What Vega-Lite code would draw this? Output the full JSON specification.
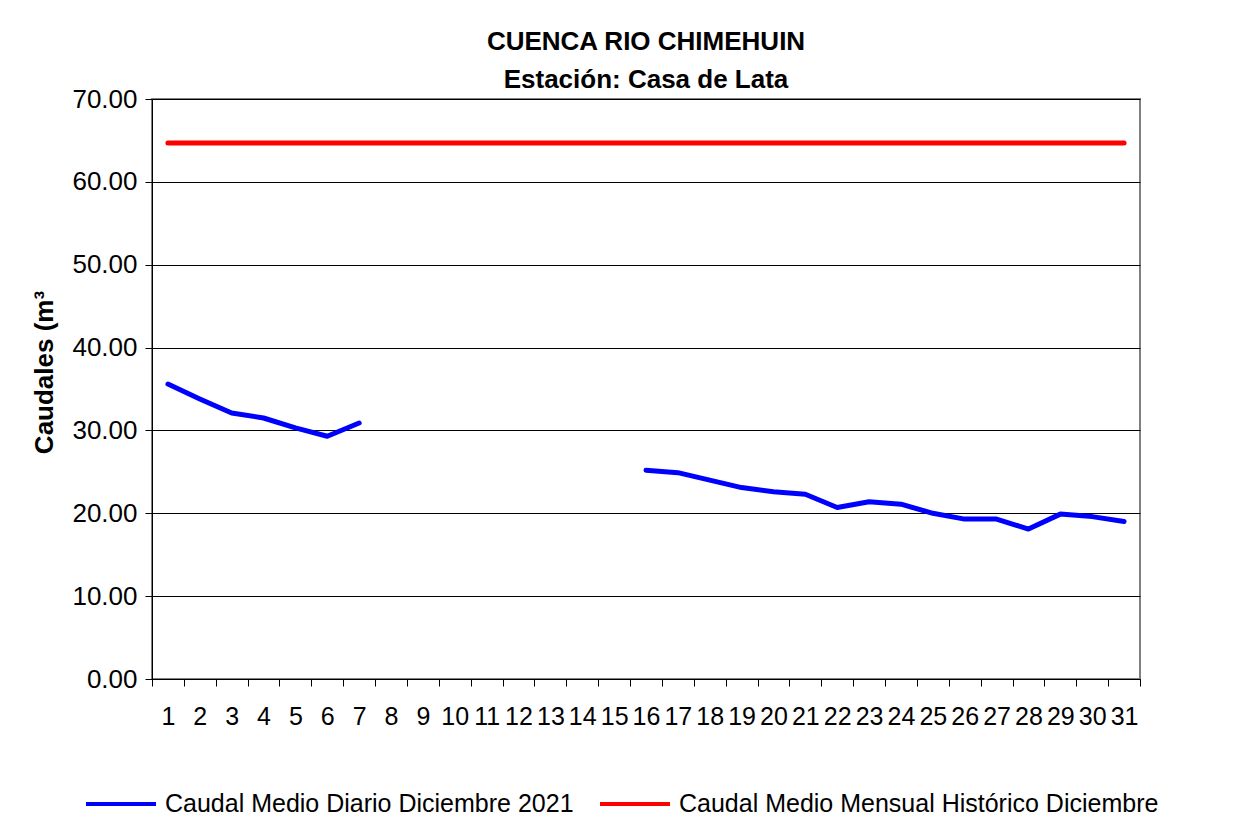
{
  "$schema": "https://vega.github.io/schema/vega-lite/v6.json",
  "width": 988,
  "height": 580,
  "autosize": {"type": "none"},
  "padding": {"left": 152, "top": 99, "right": 111, "bottom": 155},
  "background": "white",
  "config": {
    "font": "Liberation Sans",
    "view": {"stroke": "#808080", "strokeWidth": 2}
  },
  "title": {
    "text": "CUENCA RIO CHIMEHUIN",
    "subtitle": "Estación: Casa de Lata",
    "anchor": "middle",
    "frame": "group",
    "font": "Liberation Sans",
    "fontSize": 26,
    "fontWeight": "bold",
    "color": "black",
    "subtitleFont": "Liberation Sans",
    "subtitleFontSize": 26,
    "subtitleFontWeight": "bold",
    "subtitleColor": "black",
    "subtitlePadding": 12,
    "offset": -7
  },
  "data": {
    "values": [
      {"dia": 1, "serie": "Caudal Medio Diario Diciembre 2021", "caudal": 35.6},
      {"dia": 2, "serie": "Caudal Medio Diario Diciembre 2021", "caudal": 33.8},
      {"dia": 3, "serie": "Caudal Medio Diario Diciembre 2021", "caudal": 32.1},
      {"dia": 4, "serie": "Caudal Medio Diario Diciembre 2021", "caudal": 31.5},
      {"dia": 5, "serie": "Caudal Medio Diario Diciembre 2021", "caudal": 30.3},
      {"dia": 6, "serie": "Caudal Medio Diario Diciembre 2021", "caudal": 29.3},
      {"dia": 7, "serie": "Caudal Medio Diario Diciembre 2021", "caudal": 30.9},
      {"dia": 8, "serie": "Caudal Medio Diario Diciembre 2021", "caudal": null},
      {"dia": 9, "serie": "Caudal Medio Diario Diciembre 2021", "caudal": null},
      {"dia": 10, "serie": "Caudal Medio Diario Diciembre 2021", "caudal": null},
      {"dia": 11, "serie": "Caudal Medio Diario Diciembre 2021", "caudal": null},
      {"dia": 12, "serie": "Caudal Medio Diario Diciembre 2021", "caudal": null},
      {"dia": 13, "serie": "Caudal Medio Diario Diciembre 2021", "caudal": null},
      {"dia": 14, "serie": "Caudal Medio Diario Diciembre 2021", "caudal": null},
      {"dia": 15, "serie": "Caudal Medio Diario Diciembre 2021", "caudal": null},
      {"dia": 16, "serie": "Caudal Medio Diario Diciembre 2021", "caudal": 25.2},
      {"dia": 17, "serie": "Caudal Medio Diario Diciembre 2021", "caudal": 24.9},
      {"dia": 18, "serie": "Caudal Medio Diario Diciembre 2021", "caudal": 24.0},
      {"dia": 19, "serie": "Caudal Medio Diario Diciembre 2021", "caudal": 23.1},
      {"dia": 20, "serie": "Caudal Medio Diario Diciembre 2021", "caudal": 22.6},
      {"dia": 21, "serie": "Caudal Medio Diario Diciembre 2021", "caudal": 22.3},
      {"dia": 22, "serie": "Caudal Medio Diario Diciembre 2021", "caudal": 20.7},
      {"dia": 23, "serie": "Caudal Medio Diario Diciembre 2021", "caudal": 21.4},
      {"dia": 24, "serie": "Caudal Medio Diario Diciembre 2021", "caudal": 21.1},
      {"dia": 25, "serie": "Caudal Medio Diario Diciembre 2021", "caudal": 20.0},
      {"dia": 26, "serie": "Caudal Medio Diario Diciembre 2021", "caudal": 19.3},
      {"dia": 27, "serie": "Caudal Medio Diario Diciembre 2021", "caudal": 19.3},
      {"dia": 28, "serie": "Caudal Medio Diario Diciembre 2021", "caudal": 18.1},
      {"dia": 29, "serie": "Caudal Medio Diario Diciembre 2021", "caudal": 19.9},
      {"dia": 30, "serie": "Caudal Medio Diario Diciembre 2021", "caudal": 19.6},
      {"dia": 31, "serie": "Caudal Medio Diario Diciembre 2021", "caudal": 19.0},
      {"dia": 1, "serie": "Caudal Medio Mensual Histórico Diciembre", "caudal": 64.7},
      {"dia": 2, "serie": "Caudal Medio Mensual Histórico Diciembre", "caudal": 64.7},
      {"dia": 3, "serie": "Caudal Medio Mensual Histórico Diciembre", "caudal": 64.7},
      {"dia": 4, "serie": "Caudal Medio Mensual Histórico Diciembre", "caudal": 64.7},
      {"dia": 5, "serie": "Caudal Medio Mensual Histórico Diciembre", "caudal": 64.7},
      {"dia": 6, "serie": "Caudal Medio Mensual Histórico Diciembre", "caudal": 64.7},
      {"dia": 7, "serie": "Caudal Medio Mensual Histórico Diciembre", "caudal": 64.7},
      {"dia": 8, "serie": "Caudal Medio Mensual Histórico Diciembre", "caudal": 64.7},
      {"dia": 9, "serie": "Caudal Medio Mensual Histórico Diciembre", "caudal": 64.7},
      {"dia": 10, "serie": "Caudal Medio Mensual Histórico Diciembre", "caudal": 64.7},
      {"dia": 11, "serie": "Caudal Medio Mensual Histórico Diciembre", "caudal": 64.7},
      {"dia": 12, "serie": "Caudal Medio Mensual Histórico Diciembre", "caudal": 64.7},
      {"dia": 13, "serie": "Caudal Medio Mensual Histórico Diciembre", "caudal": 64.7},
      {"dia": 14, "serie": "Caudal Medio Mensual Histórico Diciembre", "caudal": 64.7},
      {"dia": 15, "serie": "Caudal Medio Mensual Histórico Diciembre", "caudal": 64.7},
      {"dia": 16, "serie": "Caudal Medio Mensual Histórico Diciembre", "caudal": 64.7},
      {"dia": 17, "serie": "Caudal Medio Mensual Histórico Diciembre", "caudal": 64.7},
      {"dia": 18, "serie": "Caudal Medio Mensual Histórico Diciembre", "caudal": 64.7},
      {"dia": 19, "serie": "Caudal Medio Mensual Histórico Diciembre", "caudal": 64.7},
      {"dia": 20, "serie": "Caudal Medio Mensual Histórico Diciembre", "caudal": 64.7},
      {"dia": 21, "serie": "Caudal Medio Mensual Histórico Diciembre", "caudal": 64.7},
      {"dia": 22, "serie": "Caudal Medio Mensual Histórico Diciembre", "caudal": 64.7},
      {"dia": 23, "serie": "Caudal Medio Mensual Histórico Diciembre", "caudal": 64.7},
      {"dia": 24, "serie": "Caudal Medio Mensual Histórico Diciembre", "caudal": 64.7},
      {"dia": 25, "serie": "Caudal Medio Mensual Histórico Diciembre", "caudal": 64.7},
      {"dia": 26, "serie": "Caudal Medio Mensual Histórico Diciembre", "caudal": 64.7},
      {"dia": 27, "serie": "Caudal Medio Mensual Histórico Diciembre", "caudal": 64.7},
      {"dia": 28, "serie": "Caudal Medio Mensual Histórico Diciembre", "caudal": 64.7},
      {"dia": 29, "serie": "Caudal Medio Mensual Histórico Diciembre", "caudal": 64.7},
      {"dia": 30, "serie": "Caudal Medio Mensual Histórico Diciembre", "caudal": 64.7},
      {"dia": 31, "serie": "Caudal Medio Mensual Histórico Diciembre", "caudal": 64.7}
    ]
  },
  "mark": {"type": "line", "strokeWidth": 5, "strokeCap": "round", "strokeJoin": "round", "invalid": "break-paths-show-domains"},
  "encoding": {
    "x": {
      "field": "dia",
      "type": "ordinal",
      "bandPosition": 0.5,
      "scale": {"type": "band", "paddingInner": 0, "paddingOuter": 0},
      "axis": {
        "title": null,
        "tickBand": "extent",
        "tickSize": 7,
        "tickColor": "black",
        "domainColor": "black",
        "domainWidth": 1,
        "labelFont": "Liberation Sans",
        "labelFontSize": 25,
        "labelColor": "black",
        "labelAngle": 0,
        "labelPadding": 18,
        "labelOverlap": false,
        "labelFlush": false,
        "labelLimit": 100,
        "grid": false
      }
    },
    "y": {
      "field": "caudal",
      "type": "quantitative",
      "scale": {"domain": [0, 70], "nice": false, "zero": true},
      "axis": {
        "title": "Caudales (m³",
        "titleFont": "Liberation Sans",
        "titleFontSize": 26,
        "titleFontWeight": "bold",
        "titleColor": "black",
        "titleAngle": 270,
        "titleAlign": "center",
        "titleBaseline": "alphabetic",
        "titleX": -100,
        "titleY": 273,
        "values": [0, 10, 20, 30, 40, 50, 60, 70],
        "format": ".2f",
        "labelFont": "Liberation Sans",
        "labelFontSize": 26,
        "labelColor": "black",
        "labelPadding": 8,
        "tickSize": 7,
        "tickColor": "black",
        "domainColor": "black",
        "domainWidth": 1,
        "grid": true,
        "gridColor": "black",
        "gridWidth": 1
      }
    },
    "color": {
      "field": "serie",
      "type": "nominal",
      "scale": {
        "domain": ["Caudal Medio Diario Diciembre 2021", "Caudal Medio Mensual Histórico Diciembre"],
        "range": ["#0000FF", "#FF0000"]
      },
      "legend": {
        "title": null,
        "orient": "none",
        "direction": "horizontal",
        "legendX": -68,
        "legendY": 668,
        "symbolType": "stroke",
        "symbolSize": 4900,
        "symbolStrokeWidth": 4,
        "labelFont": "Liberation Sans",
        "labelFontSize": 25,
        "labelColor": "black",
        "labelOffset": 7,
        "labelLimit": 600,
        "columnPadding": 18
      }
    }
  }
}
